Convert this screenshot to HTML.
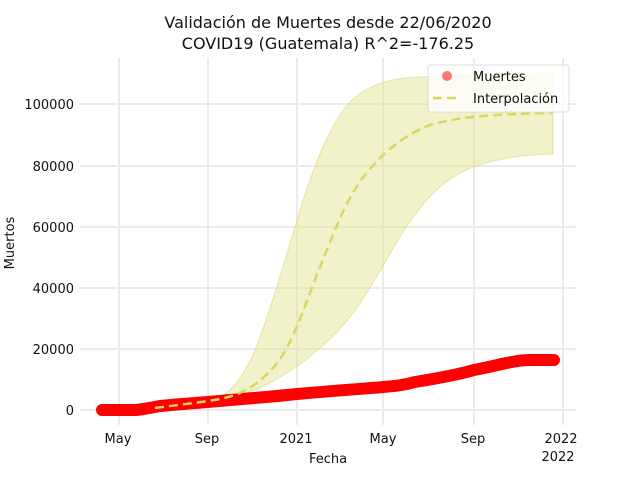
<!DOCTYPE html>
<html><head><meta charset="utf-8"><style>
body{margin:0;background:#fff}
svg{font-family:"DejaVu Sans","Liberation Sans",sans-serif}
</style></head><body>
<svg width="640" height="480" viewBox="0 0 640 480" xmlns="http://www.w3.org/2000/svg">
<rect width="640" height="480" fill="#fff"/>
<g stroke="#ebebeb" stroke-width="2">
<line x1="119" y1="58" x2="119" y2="425"/><line x1="208" y1="58" x2="208" y2="425"/>
<line x1="297" y1="58" x2="297" y2="425"/><line x1="383" y1="58" x2="383" y2="425"/>
<line x1="474" y1="58" x2="474" y2="425"/><line x1="563" y1="58" x2="563" y2="425"/>
<line x1="80" y1="410" x2="576" y2="410"/><line x1="80" y1="349" x2="576" y2="349"/>
<line x1="80" y1="288" x2="576" y2="288"/><line x1="80" y1="227" x2="576" y2="227"/>
<line x1="80" y1="166" x2="576" y2="166"/><line x1="80" y1="104" x2="576" y2="104"/>
</g>
<path d="M208,402 C225,398 240,385 255,350 C268,318 282,270 297,220 C312,170 330,122 352,100 C372,82 395,78 420,77 C460,75 500,74 553,74 L553,154 C520,155 500,158 473,167 C440,180 420,205 400,237 C380,270 365,300 345,323 C325,346 300,366 280,377 C260,390 235,398 208,402 Z" fill="#e0e08a" fill-opacity="0.45" stroke="#d8d87a" stroke-opacity="0.6"/>
<path d="M102,410 L136,410 C145,409 150,408 160,406 C180,404 195,403 208,402 C240,399 270,397 297,394 C330,391 360,389 383,387 C400,386 408,384 415,382 C440,378 460,374 474,370 C500,365 515,360 530,360 L554,360" fill="none" stroke="#ff0000" stroke-width="12" stroke-linecap="round" stroke-linejoin="round"/>
<path d="M155,408 C185,404 205,402 220,399 C245,394 262,382 278,362 C295,338 305,305 318,272 C332,238 345,200 365,175 C385,150 405,135 430,125 C460,116 500,114 553,113" fill="none" stroke="#d8d860" stroke-width="2.5" stroke-dasharray="9,5"/>
<rect x="428" y="65" width="141" height="47" rx="3" fill="#fff" fill-opacity="0.8" stroke="#ddd"/>
<circle cx="447" cy="76" r="5" fill="#ff5555" fill-opacity="0.8"/>
<line x1="433" y1="98" x2="458" y2="98" stroke="#d8d860" stroke-width="2.5" stroke-dasharray="9,5"/>
<g font-size="13" fill="#111">
<text x="473" y="81">Muertes</text>
<text x="473" y="103">Interpolación</text>
</g>
<g font-size="13" fill="#111" text-anchor="end">
<text x="74" y="415">0</text><text x="74" y="354">20000</text><text x="74" y="293">40000</text>
<text x="74" y="232">60000</text><text x="74" y="171">80000</text><text x="74" y="109">100000</text>
</g>
<g font-size="13" fill="#111" text-anchor="middle">
<text x="118" y="443">May</text><text x="207" y="443">Sep</text><text x="296" y="443">2021</text>
<text x="383" y="443">May</text><text x="473" y="443">Sep</text><text x="561" y="443">2022</text>
<text x="558" y="461">2022</text>
<text x="328" y="463">Fecha</text>
<text x="328" y="28" font-size="16">Validación de Muertes desde 22/06/2020</text>
<text x="328" y="49" font-size="16">COVID19 (Guatemala) R^2=-176.25</text>
<text transform="translate(14,243) rotate(-90)">Muertos</text>
</g>
</svg>
</body></html>
